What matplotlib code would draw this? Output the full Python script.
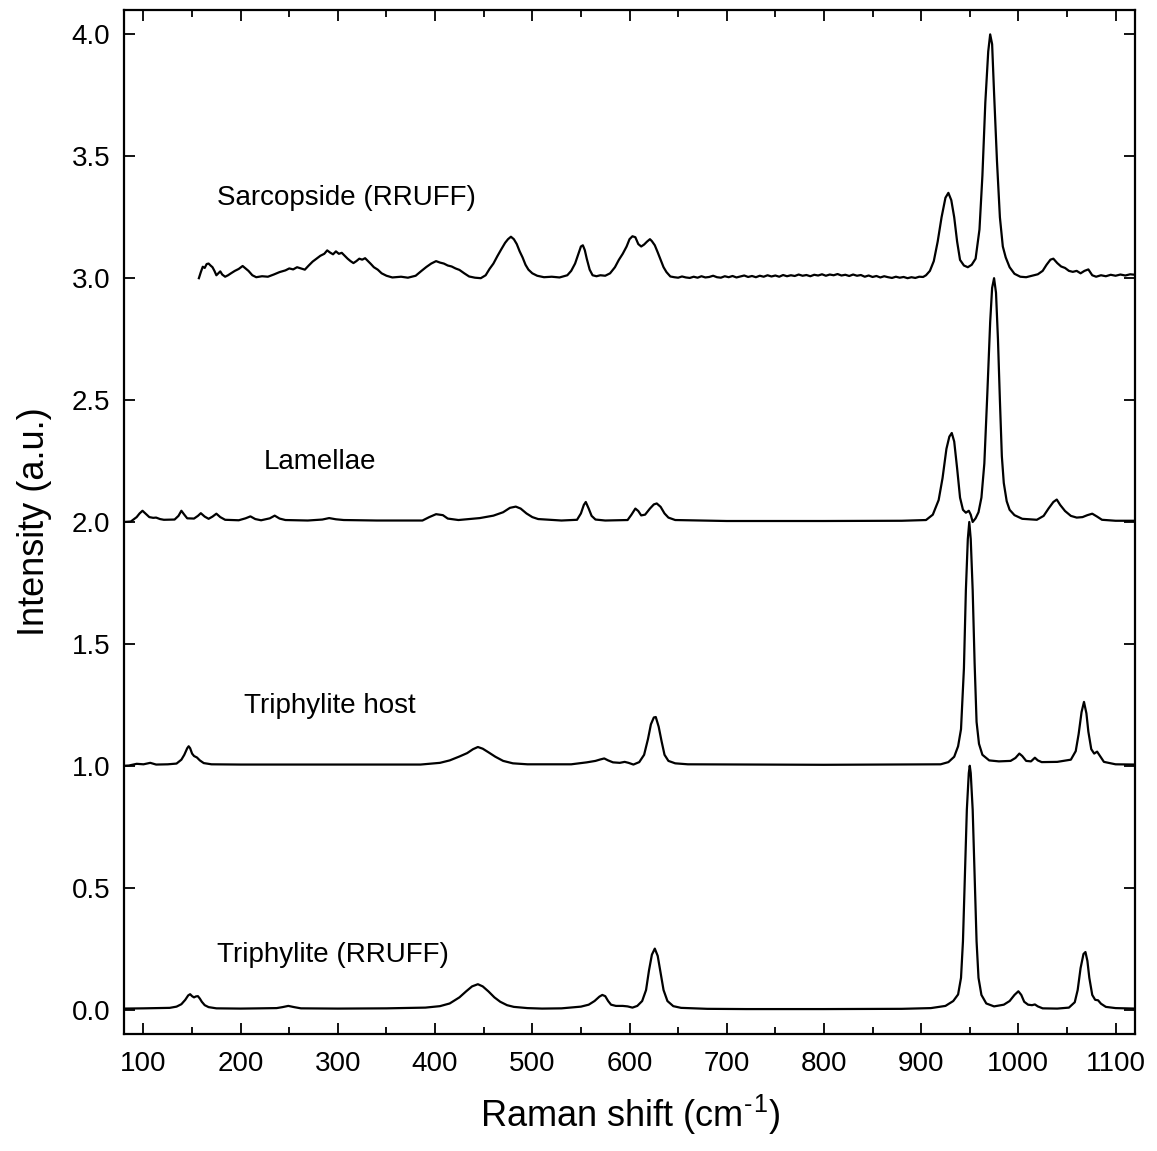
import matplotlib
matplotlib.use("Agg")
import matplotlib.pyplot as plt
from matplotlib.ticker import MultipleLocator

plt.rcParams['font.family'] = ['Liberation Sans', 'DejaVu Sans']
plt.rcParams['mathtext.default'] = 'regular'

# ---------------- data ----------------
x_rruff = [80, 100, 127, 134, 139, 143, 146, 148, 150, 152, 154, 156, 158, 160, 163, 167, 175,
           200, 220, 237, 243, 249, 255, 262, 300, 350, 390, 405, 415, 425, 432, 438, 444, 449,
           455, 461, 467, 474, 481, 495, 510, 530, 550, 558, 564, 569, 572, 575, 578, 581, 586,
           593, 598, 603, 608, 613, 617, 620, 623, 626, 629, 632, 635, 639, 645, 653, 680, 720,
           800, 880, 910, 925, 933, 938, 941, 943, 945, 947, 949, 950, 951, 953, 955, 957, 959,
           962, 967, 975, 985, 991, 996, 1000, 1003, 1006, 1010, 1014, 1017, 1020, 1025, 1040,
           1052, 1058, 1061, 1064, 1067, 1069, 1071, 1073, 1076, 1079, 1082, 1085, 1090, 1100, 1120]
y_rruff = [0.004, 0.005, 0.007, 0.012, 0.022, 0.040, 0.058, 0.063, 0.055, 0.050, 0.054, 0.055,
           0.045, 0.032, 0.018, 0.010, 0.005, 0.004, 0.005, 0.006, 0.010, 0.015, 0.010, 0.005,
           0.004, 0.005, 0.008, 0.014, 0.025, 0.050, 0.075, 0.095, 0.104, 0.095, 0.074, 0.050,
           0.032, 0.018, 0.011, 0.006, 0.004, 0.005, 0.012, 0.020, 0.035, 0.053, 0.060, 0.055,
           0.035, 0.020, 0.015, 0.015, 0.013, 0.008, 0.015, 0.035, 0.080, 0.160, 0.225, 0.250,
           0.220, 0.150, 0.080, 0.035, 0.014, 0.007, 0.003, 0.002, 0.002, 0.003, 0.006, 0.015,
           0.035, 0.062, 0.13, 0.28, 0.55, 0.82, 0.97, 1.0, 0.97, 0.82, 0.55, 0.28, 0.13, 0.06,
           0.025, 0.013, 0.020, 0.035, 0.060, 0.075, 0.060, 0.032, 0.020, 0.018, 0.021, 0.013,
           0.005, 0.004, 0.008, 0.030, 0.080, 0.170, 0.228, 0.236, 0.200, 0.130, 0.060, 0.040,
           0.038, 0.024, 0.011, 0.006, 0.004]

x_host = [80, 85, 93, 100, 107, 113, 125, 134, 139, 142, 145, 146.5, 148, 150, 152, 155, 158,
          162, 170, 200, 300, 385, 405, 415, 425, 433, 439, 444, 449, 455, 462, 470, 480, 495,
          540, 556, 565, 570, 574, 578, 583, 590, 595, 599, 604, 610, 615, 619, 622, 625, 627,
          630, 633, 636, 640, 647, 660, 800, 920, 928, 934, 938, 941, 944, 946, 948, 949.5,
          951, 953, 955, 957, 959.5, 963, 970, 980, 992, 997, 1001, 1004, 1008, 1013, 1017,
          1020, 1024, 1040, 1054, 1059, 1062, 1065, 1067.5, 1070, 1072, 1075, 1078, 1081, 1084,
          1088, 1100, 1120]
y_host = [1.000, 1.001, 1.008, 1.006, 1.012, 1.005, 1.006, 1.009, 1.025, 1.045, 1.072, 1.080,
          1.072, 1.050, 1.040, 1.034, 1.022, 1.011, 1.006, 1.005, 1.005, 1.005, 1.012, 1.022,
          1.038, 1.052, 1.068, 1.077, 1.070, 1.055, 1.037, 1.020, 1.010, 1.006, 1.006, 1.014,
          1.020, 1.026, 1.030, 1.022, 1.014, 1.012, 1.016, 1.012, 1.005, 1.015, 1.045, 1.110,
          1.170, 1.198, 1.200, 1.160, 1.100, 1.045, 1.020, 1.010, 1.006, 1.004, 1.006, 1.015,
          1.037, 1.080, 1.15, 1.40, 1.72, 1.93, 2.0, 1.93, 1.72, 1.42, 1.18, 1.09, 1.045,
          1.022, 1.018, 1.020, 1.032, 1.050, 1.040, 1.020, 1.018, 1.033, 1.022, 1.015, 1.016,
          1.025, 1.060, 1.130, 1.220, 1.262, 1.215, 1.140, 1.068, 1.050, 1.058, 1.040, 1.016,
          1.006, 1.005]

x_lam = [80, 87, 93, 96, 99, 102, 106, 110, 113, 117, 121, 132, 136, 139, 142, 145, 152, 156,
         159, 163, 167, 171, 175, 179, 184, 198, 205, 210, 215, 221, 230, 235, 240, 246, 269,
         284, 291, 298, 306, 340, 387, 394, 401, 408, 413, 424, 446, 460, 470, 477, 483, 488,
         494, 500, 506, 530, 546, 550, 553, 555, 558, 561, 565, 575, 598, 602, 606, 609, 612,
         616, 621, 625, 628, 632, 636, 640, 647, 700, 800, 880, 905, 912, 918, 922, 926, 929,
         931.5, 934, 937, 940, 943, 946, 949, 951, 953, 956, 959, 962, 965, 968, 971, 973, 975,
         977, 979, 981, 983, 985, 988, 991, 996, 1004, 1019, 1026, 1031, 1036, 1039.5, 1043,
         1048, 1054, 1060, 1066, 1071, 1076, 1081, 1086, 1100, 1120]
y_lam = [2.000, 2.002, 2.020, 2.035, 2.046, 2.035, 2.020, 2.017, 2.018, 2.012, 2.009, 2.010,
         2.025, 2.046, 2.030, 2.015, 2.014, 2.025, 2.036, 2.022, 2.013, 2.022, 2.034, 2.020,
         2.009, 2.007, 2.015, 2.023, 2.012, 2.007, 2.015, 2.026, 2.014, 2.008, 2.006, 2.010,
         2.016, 2.011, 2.008, 2.006, 2.006, 2.020, 2.032, 2.028, 2.014, 2.008, 2.016, 2.026,
         2.040, 2.058, 2.063, 2.055, 2.035, 2.020, 2.012, 2.006, 2.009, 2.035, 2.070, 2.082,
         2.055, 2.025, 2.010, 2.006, 2.008, 2.030, 2.055, 2.045, 2.027, 2.030, 2.055, 2.072,
         2.076, 2.062, 2.035, 2.018, 2.008, 2.004, 2.004, 2.005, 2.008, 2.030, 2.090, 2.180,
         2.300, 2.350, 2.365, 2.330, 2.220, 2.100, 2.050, 2.038, 2.046, 2.030, 2.000, 2.015,
         2.040, 2.100, 2.240, 2.520, 2.820, 2.960, 3.000, 2.940, 2.750, 2.500, 2.270, 2.160,
         2.085, 2.050, 2.028, 2.013, 2.009, 2.025, 2.055, 2.082, 2.092, 2.070, 2.045, 2.025,
         2.018, 2.020, 2.028, 2.034, 2.022, 2.009, 2.005, 2.005]

x_sarc = [157, 159, 161, 163, 165, 167, 169, 171, 173, 175, 177, 179, 181, 184, 187, 190, 194,
          198, 202, 205, 208, 212, 216, 222, 228, 234, 240, 246, 250, 254, 258, 262, 266, 270,
          274, 278, 282, 286, 289, 292, 295, 298, 301, 304, 307, 310, 313, 316, 319, 322, 325,
          328, 331, 334, 337, 341, 345, 350, 356, 365, 372, 380, 386, 391, 396, 401, 405, 409,
          413, 417, 421, 425, 430, 435, 441, 447, 452, 456, 460, 464, 468, 472, 475, 478, 481,
          484, 487, 490, 493, 496, 500, 505, 512, 520, 528, 536, 540, 544, 547, 550, 552, 554,
          556, 559, 562, 566, 570, 575, 580, 585, 589, 593, 597, 600, 603, 606, 609, 612, 615,
          618, 621, 623, 626, 629, 632, 635, 638, 642,
          646, 650, 654, 658, 662, 666, 670, 674, 678, 682, 686, 690, 694, 698, 702, 706, 710,
          714, 718, 722, 726, 730, 734, 738, 742, 746, 750, 754, 758, 762, 766, 770, 774, 778,
          782, 786, 790, 794, 798, 802, 806, 810, 814, 818, 822, 826, 830, 834, 838, 842, 846,
          850, 854, 858, 862, 866, 870, 874, 878, 882, 886, 890, 894, 898, 902,
          905, 909, 913, 917, 921, 925, 928, 931, 934,
          937, 940, 944, 948, 952, 956, 960, 963, 966, 969, 971, 973, 975, 978, 981, 984, 987,
          991, 996, 1002, 1008, 1014, 1020, 1025, 1029, 1033, 1036, 1040, 1044, 1048, 1052,
          1056, 1060, 1064, 1068, 1072, 1076, 1080, 1085, 1090, 1095, 1100, 1105, 1110, 1115,
          1120]
y_sarc = [3.000, 3.025, 3.047, 3.042, 3.058, 3.060, 3.052, 3.045, 3.030, 3.012, 3.020, 3.028,
          3.015, 3.006, 3.012, 3.020, 3.030, 3.038, 3.050, 3.040, 3.030, 3.012, 3.004, 3.008,
          3.006, 3.015, 3.025, 3.032, 3.040, 3.036, 3.045, 3.040, 3.035, 3.052, 3.068, 3.080,
          3.092, 3.100, 3.114, 3.105, 3.098, 3.110, 3.100, 3.104, 3.092, 3.080, 3.070, 3.062,
          3.070, 3.080, 3.076, 3.082, 3.070, 3.058, 3.045, 3.035, 3.020, 3.010, 3.003, 3.006,
          3.002, 3.010, 3.030, 3.046, 3.060, 3.070, 3.064, 3.060, 3.052, 3.048, 3.040, 3.034,
          3.020, 3.007, 3.002, 3.000, 3.012, 3.038, 3.060, 3.090, 3.118, 3.145, 3.160, 3.170,
          3.160, 3.140, 3.110, 3.085, 3.055, 3.035, 3.020, 3.010, 3.004, 3.006, 3.003, 3.012,
          3.030, 3.060, 3.095, 3.130, 3.135, 3.115, 3.080, 3.035, 3.012, 3.008, 3.012, 3.010,
          3.020, 3.045, 3.075, 3.100, 3.130, 3.160, 3.172, 3.168, 3.140, 3.130, 3.138, 3.150,
          3.160, 3.152, 3.135, 3.106, 3.075, 3.045, 3.025, 3.007,
          3.004, 3.002, 3.007, 3.003, 3.001, 3.006, 3.002, 3.008, 3.003, 3.005, 3.010, 3.004,
          3.002, 3.008, 3.004, 3.009, 3.003, 3.007, 3.011, 3.005, 3.009, 3.004, 3.010, 3.006,
          3.012, 3.007, 3.011, 3.006, 3.013, 3.008, 3.012, 3.009, 3.015, 3.010, 3.013, 3.008,
          3.014, 3.011, 3.016, 3.010, 3.015, 3.012, 3.017, 3.011, 3.014, 3.009, 3.015, 3.010,
          3.013, 3.006, 3.011, 3.005, 3.009, 3.003, 3.008, 3.004, 3.001, 3.006, 3.002, 3.005,
          3.000, 3.004, 3.001, 3.006, 3.005,
          3.012, 3.030, 3.070, 3.150, 3.250, 3.330, 3.350, 3.320, 3.250,
          3.150, 3.075, 3.052, 3.045, 3.055, 3.080, 3.200, 3.420, 3.720, 3.930,
          4.000, 3.960, 3.760, 3.480, 3.250, 3.130, 3.085, 3.045, 3.018, 3.006, 3.004, 3.010,
          3.016, 3.030, 3.055, 3.076, 3.080, 3.062, 3.048, 3.042, 3.030, 3.026, 3.030, 3.020,
          3.030, 3.036, 3.012, 3.006, 3.012, 3.008, 3.014, 3.010, 3.015, 3.011, 3.016, 3.014]

labels = ["Triphylite (RRUFF)", "Triphylite host", "Lamellae", "Sarcopside (RRUFF)"]
label_x = [175.5, 203, 223.5, 176]
label_y = [0.195, 1.218, 2.219, 3.299]

x_ticks = [100, 200, 300, 400, 500, 600, 700, 800, 900, 1000, 1100]
y_ticks = [0.0, 0.5, 1.0, 1.5, 2.0, 2.5, 3.0, 3.5, 4.0]

# ---------------- figure ----------------
fig = plt.figure(figsize=(11.57, 11.51), dpi=100)
ax = fig.add_axes([0.1072, 0.1017, 0.8738, 0.8896])

for xs, ys in [(x_rruff, y_rruff), (x_host, y_host), (x_lam, y_lam), (x_sarc, y_sarc)]:
    ax.plot(xs, ys, color='black', lw=1.6, solid_joinstyle='round')

for t, tx, ty in zip(labels, label_x, label_y):
    ax.text(tx, ty, t, fontsize=20, ha='left', va='baseline')

ax.set_xlim(80, 1120)
ax.set_ylim(-0.1, 4.1)
ax.set_xticks(x_ticks)
ax.set_xticklabels([str(v) for v in x_ticks])
ax.xaxis.set_minor_locator(MultipleLocator(50))
ax.set_yticks(y_ticks)
ax.set_yticklabels([f"{v:.1f}" for v in y_ticks])

ax.tick_params(axis='both', which='major', direction='in', length=8, width=1.3,
               labelsize=20, top=True, right=True)
ax.tick_params(axis='both', which='minor', direction='in', length=5, width=1.3,
               top=True, right=True)
ax.tick_params(axis='x', which='major', pad=12)
ax.tick_params(axis='y', which='major', pad=10)
for s in ax.spines.values():
    s.set_linewidth(1.6)

ax.set_xlabel("Raman shift (cm$^{\u2010}$$^{1}$)", fontsize=26, labelpad=12)
ax.set_ylabel("Intensity (a.u.)", fontsize=26, labelpad=14)

fig.savefig("out.png", dpi=100)
